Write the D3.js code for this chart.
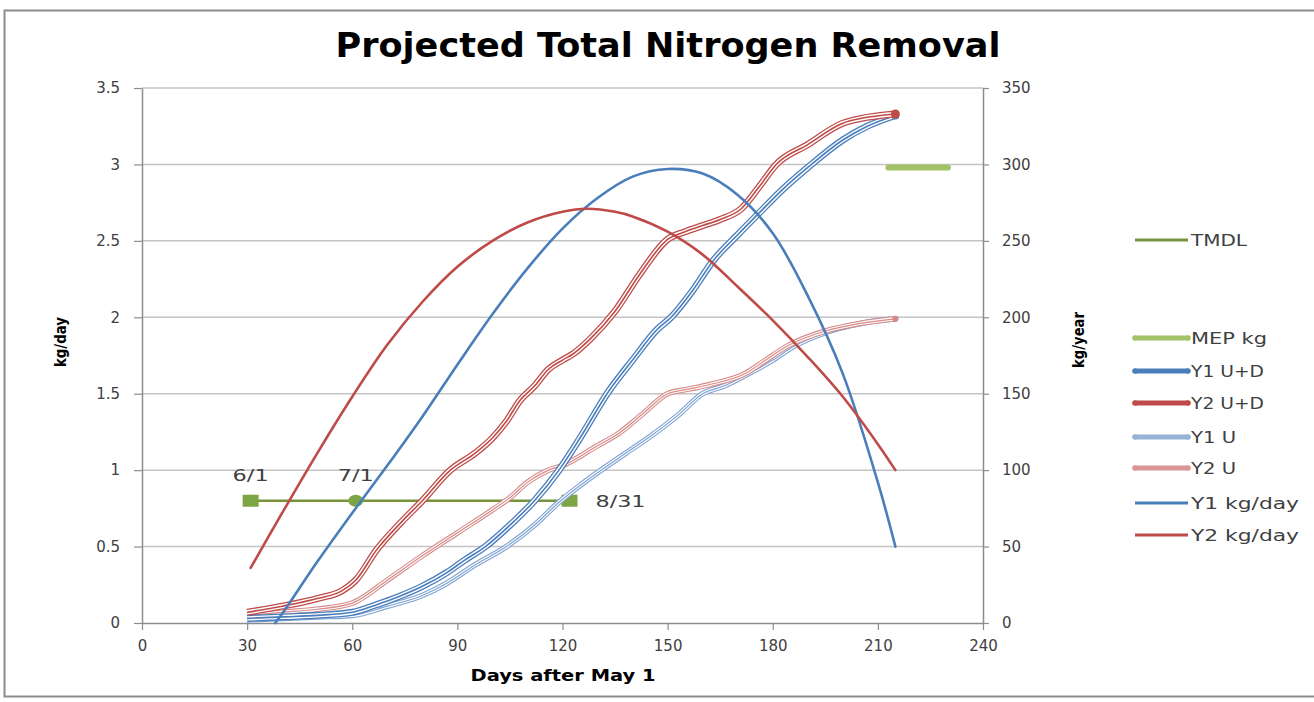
<!DOCTYPE html>
<html>
<head>
<meta charset="utf-8">
<script src="https://cdn.jsdelivr.net/npm/d3@7"></script>
<style>
  body { margin: 0; background: #fff; }
  text { font-family: "DejaVu Sans", Verdana, sans-serif; }
</style>
</head>
<body>
<svg id="chart" width="1314" height="702"></svg>
<script>
// tick values
const xTicks = [0, 30, 60, 90, 120, 150, 180, 210, 240];
const leftTicks = [0, 0.5, 1, 1.5, 2, 2.5, 3, 3.5];
const rightTicks = [0, 50, 100, 150, 200, 250, 300, 350];

// daily removal, kg/day (left axis)
const y1DayDays = [38, 40, 50, 60, 70, 80, 90, 100, 110, 120, 130, 140, 150, 160, 170, 180, 190, 200, 210, 215];
const y1DayVals = [0.0, 0.06, 0.40, 0.72, 1.03, 1.35, 1.69, 2.02, 2.32, 2.58, 2.78, 2.92, 2.97, 2.94, 2.80, 2.55, 2.14, 1.63, 0.92, 0.50];
const y2DayDays = [31, 40, 50, 60, 70, 80, 90, 100, 110, 120, 127, 135, 140, 150, 160, 170, 180, 190, 200, 210, 215];
const y2DayVals = [0.36, 0.72, 1.11, 1.48, 1.82, 2.10, 2.33, 2.50, 2.62, 2.69, 2.71, 2.69, 2.66, 2.56, 2.41, 2.20, 1.98, 1.74, 1.48, 1.17, 1.0];

// cumulative removal, kg (right axis)
const y1UDDays = [30, 40, 50, 60, 67, 73, 80, 87, 92, 98, 105, 112, 119, 125, 133, 140, 147, 151, 157, 163, 170, 176, 183, 190, 200, 207, 215];
const y1UDVals = [3, 4, 5, 7, 12, 17, 24, 33, 41, 50, 64, 80, 100, 121, 151, 172, 192, 200, 217, 237, 254, 268, 284, 298, 316, 325, 332];
const y2UDDays = [30, 40, 50, 57, 61, 67, 74, 80, 88, 95, 100, 104, 108, 112, 116, 120, 123, 128, 135, 142, 150, 155, 160, 165, 171, 176, 181, 190, 200, 205, 215];
const y2UDVals = [7, 11, 16, 21, 28, 48, 66, 80, 100, 111, 121, 132, 146, 155, 166, 172, 176, 186, 204, 228, 251, 256, 260, 264, 271, 285, 300, 313, 327, 330, 333];
const y1UDays = [30, 40, 50, 60, 70, 80, 87, 95, 104, 112, 119, 125, 131, 138, 145, 153, 160, 166, 173, 180, 186, 195, 205, 215];
const y1UVals = [2, 3, 4, 5, 11, 18, 26, 38, 50, 64, 79, 90, 100, 111, 122, 136, 150, 155, 163, 172, 181, 190, 196, 199];
const y2UDays = [30, 40, 50, 60, 70, 80, 90, 100, 105, 110, 116, 120, 130, 136, 143, 150, 156, 162, 172, 178, 184, 195, 205, 215];
const y2UVals = [5, 7, 9, 13, 28, 44, 59, 74, 82, 92, 100, 103, 116, 124, 137, 150, 153, 156, 163, 172, 181, 191, 196, 199];

// reference lines
const tmdlDays = [31, 61, 122];
const tmdlVals = [0.8, 0.8, 0.8];
const tmdlLabels = ['6/1', '7/1', '8/31'];
const mepDays = [213, 230];
const mepVals = [298, 298];

const legendNames = ['TMDL', 'MEP kg', 'Y1 U+D', 'Y2 U+D', 'Y1 U', 'Y2 U', 'Y1 kg/day', 'Y2 kg/day'];

const W = 1314, H = 702;
const plot = {left: 142, right: 983, top: 88, bottom: 623};

const svg = d3.select('#chart');
svg.append('rect').attr('width', W).attr('height', H).attr('fill', '#fff');
// chart border
svg.append('rect')
    .attr('x', 4.5).attr('y', 10.5)
    .attr('width', W + 20).attr('height', 686)
    .attr('fill', 'none').attr('stroke', '#8c8c8c').attr('stroke-width', 2);

const x = d3.scaleLinear().domain([0, 240]).range([plot.left, plot.right]);
const yL = d3.scaleLinear().domain([0, 3.5]).range([plot.bottom, plot.top]);
const yR = d3.scaleLinear().domain([0, 350]).range([plot.bottom, plot.top]);

// gridlines
svg.append('g')
    .selectAll('line')
    .data(leftTicks.filter(d => d > 0))
    .enter()
    .append('line')
    .attr('x1', plot.left).attr('x2', plot.right)
    .attr('y1', d => yL(d)).attr('y2', d => yL(d))
    .attr('stroke', '#c4c4c4').attr('stroke-width', 1.5);

function styleAxis(g) {
    g.select('.domain').attr('stroke', '#8c8c8c').attr('stroke-width', 1.5);
    g.selectAll('.tick line').attr('stroke', '#8c8c8c').attr('stroke-width', 1.2);
    g.selectAll('.tick text')
        .attr('fill', '#404040')
        .attr('font-size', 15)
        .attr('font-family', '"DejaVu Sans", Verdana, sans-serif');
}

svg.append('g')
    .attr('transform', `translate(${plot.left},0)`)
    .call(d3.axisLeft(yL).tickValues(leftTicks).tickSize(8).tickSizeOuter(0).tickPadding(14).tickFormat(d => String(d)))
    .call(styleAxis);

svg.append('g')
    .attr('transform', `translate(${plot.right},0)`)
    .call(d3.axisRight(yR).tickValues(rightTicks).tickSize(6).tickSizeOuter(0).tickPadding(13).tickFormat(d => String(d)))
    .call(styleAxis);

svg.append('g')
    .attr('transform', `translate(0,${plot.bottom})`)
    .call(d3.axisBottom(x).tickValues(xTicks).tickSize(7).tickSizeOuter(0).tickPadding(10).tickFormat(d => String(d)))
    .call(styleAxis);

// title + axis titles
svg.append('text')
    .attr('x', 668).attr('y', 57)
    .attr('text-anchor', 'middle')
    .attr('font-family', '"Open Sans", sans-serif')
    .attr('font-weight', 'bold')
    .attr('font-size', 33)
    .attr('fill', '#000')
    .attr('textLength', 665).attr('lengthAdjust', 'spacingAndGlyphs')
    .text('Projected Total Nitrogen Removal');

svg.append('text')
    .attr('x', 563).attr('y', 681)
    .attr('text-anchor', 'middle')
    .attr('font-family', '"Open Sans", sans-serif')
    .attr('font-weight', 'bold')
    .attr('font-size', 16)
    .attr('fill', '#000')
    .attr('textLength', 185).attr('lengthAdjust', 'spacingAndGlyphs')
    .text('Days after May 1');

svg.append('text')
    .attr('transform', 'translate(66,342) rotate(-90)')
    .attr('text-anchor', 'middle')
    .attr('font-family', '"Open Sans", sans-serif')
    .attr('font-weight', 'bold')
    .attr('font-size', 16)
    .attr('textLength', 50).attr('lengthAdjust', 'spacingAndGlyphs')
    .text('kg/day');

svg.append('text')
    .attr('transform', 'translate(1084,340) rotate(-90)')
    .attr('text-anchor', 'middle')
    .attr('font-family', '"Open Sans", sans-serif')
    .attr('font-weight', 'bold')
    .attr('font-size', 16)
    .attr('textLength', 56).attr('lengthAdjust', 'spacingAndGlyphs')
    .text('kg/year');

const series = svg.append('g');

// TMDL reference line with markers
const tmdl = d3.zip(tmdlDays, tmdlVals);
series.append('path')
    .attr('d', d3.line().x(d => x(d[0])).y(d => yL(d[1]))(tmdl))
    .attr('fill', 'none').attr('stroke', '#77933c').attr('stroke-width', 2.5);
series.selectAll('.tmdl-mark')
    .data(tmdl)
    .enter()
    .each(function (d, i) {
        const s = d3.select(this);
        if (i === 1) {
            s.append('ellipse')
                .attr('cx', x(d[0])).attr('cy', yL(d[1]))
                .attr('rx', 7.5).attr('ry', 6)
                .attr('fill', '#7ca545');
        } else {
            s.append('rect')
                .attr('x', x(d[0]) - 8).attr('y', yL(d[1]) - 6)
                .attr('width', 16).attr('height', 12)
                .attr('fill', '#7ca545');
        }
    });
series.selectAll('.tmdl-label')
    .data(tmdl)
    .enter()
    .append('text')
    .attr('x', (d, i) => i < 2 ? x(d[0]) : x(d[0]) + 26)
    .attr('y', (d, i) => i < 2 ? yL(d[1]) - 20 : yL(d[1]) + 6)
    .attr('text-anchor', (d, i) => i < 2 ? 'middle' : 'start')
    .attr('font-size', 16)
    .attr('fill', '#404040')
    .attr('textLength', (d, i) => i < 2 ? 36 : 50)
    .attr('lengthAdjust', 'spacingAndGlyphs')
    .text((d, i) => tmdlLabels[i]);

// MEP kg
const mep = d3.zip(mepDays, mepVals);
series.append('path')
    .attr('d', d3.line().x(d => x(d[0])).y(d => yR(d[1]))(mep))
    .attr('fill', 'none').attr('stroke', '#a3c266').attr('stroke-width', 6)
    .attr('stroke-linecap', 'round');

const smooth = d3.curveMonotoneX;

function tripleLine(days, vals, color, w, gap, inner, r) {
    const pts = d3.zip(days, vals);
    const d = d3.line().x(p => x(p[0])).y(p => yR(p[1])).curve(smooth)(pts);
    const g = series.append('g').attr('fill', 'none').attr('stroke-linejoin', 'round');
    g.append('path').attr('d', d).attr('stroke', color).attr('stroke-width', w);
    g.append('path').attr('d', d).attr('stroke', '#fff').attr('stroke-width', gap);
    g.append('path').attr('d', d).attr('stroke', color).attr('stroke-width', inner);
    const last = pts[pts.length - 1];
    series.append('circle')
        .attr('cx', x(last[0])).attr('cy', yR(last[1])).attr('r', r)
        .attr('fill', color);
}

tripleLine(y1UDays, y1UVals, '#7fa3d3', 5.6, 3.4, 1.2, 3);
tripleLine(y2UDays, y2UVals, '#d58a88', 5.6, 3.4, 1.2, 3);
tripleLine(y1UDDays, y1UDVals, '#4a7ebb', 7, 4.4, 1.6, 4);
tripleLine(y2UDDays, y2UDVals, '#be4b48', 7, 4.4, 1.6, 4.5);

function dayLine(days, vals, color) {
    series.append('path')
        .attr('d', d3.line().x(p => x(p[0])).y(p => yL(p[1])).curve(d3.curveCatmullRom)(d3.zip(days, vals)))
        .attr('fill', 'none').attr('stroke', color).attr('stroke-width', 2.6)
        .attr('stroke-linecap', 'round');
}
dayLine(y1DayDays, y1DayVals, '#4a7ebb');
dayLine(y2DayDays, y2DayVals, '#be4b48');

// legend
const legendY = [240, 338, 371, 403, 437, 468, 503, 535];
const legendColor = ['#77933c', '#a3c266', '#4a7ebb', '#be4b48', '#95b3d7', '#d99694', '#4a7ebb', '#be4b48'];
const legendWidth = [3, 5, 5, 5, 5, 5, 3, 3];
const legendDots = [false, true, true, true, true, true, false, false];
const legendTextLen = [56, 76, 73, 73, 45, 45, 108, 108];

const legend = svg.append('g');
legendNames.forEach((name, i) => {
    const row = legend.append('g').attr('transform', `translate(0,${legendY[i]})`);
    row.append('line')
        .attr('x1', 1135).attr('x2', 1188)
        .attr('stroke', legendColor[i]).attr('stroke-width', legendWidth[i]);
    if (legendDots[i]) {
        [1135, 1188].forEach(cx => row.append('circle')
            .attr('cx', cx).attr('r', 2.8).attr('fill', legendColor[i]));
    }
    row.append('text')
        .attr('x', 1191).attr('dy', '0.36em')
        .attr('font-size', 16)
        .attr('fill', '#404040')
        .attr('textLength', legendTextLen[i]).attr('lengthAdjust', 'spacingAndGlyphs')
        .text(name);
});
</script>
</body>
</html>
